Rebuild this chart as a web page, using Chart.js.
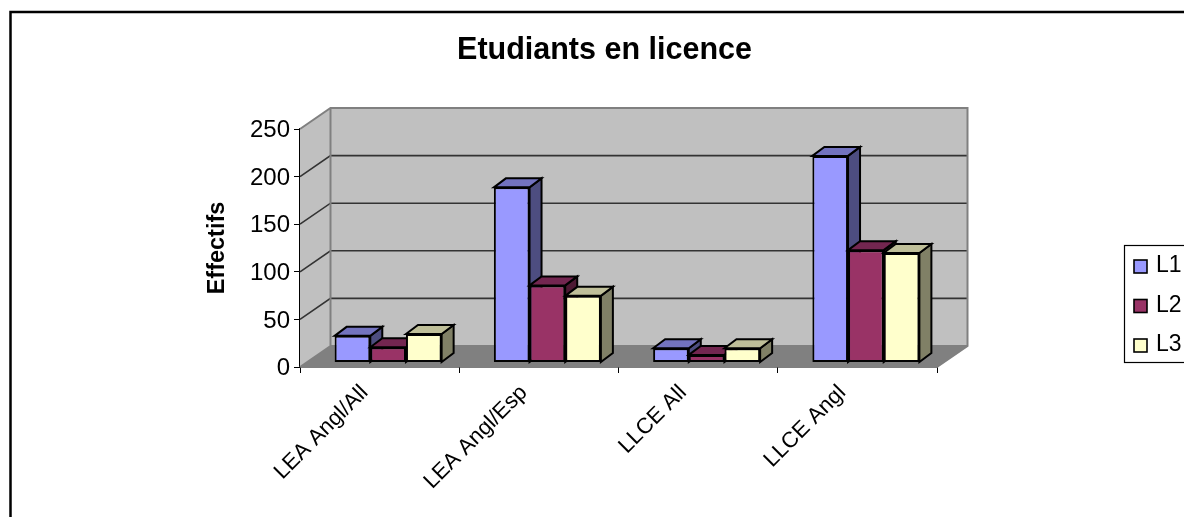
<!DOCTYPE html>
<html><head><meta charset="utf-8">
<style>html,body{margin:0;padding:0;background:#fff;overflow:hidden}canvas{display:block}</style>
<script src="https://cdn.jsdelivr.net/npm/chart.js@4"></script>
</head><body><canvas id="c" width="1184" height="517"></canvas>
<script>
const categories = ['LEA Angl/All','LEA Angl/Esp','LLCE All','LLCE Angl'];
const L1 = [28,184,15,217];
const L2 = [16,81,8,118];
const L3 = [30,70,15,115];
const yTicks = [0,50,100,150,200,250];
const seriesNames = ['L1','L2','L3'];
const fronts = ['#9999FF','#993366','#FFFFCC'];
const sides = ['#4D4D80','#4D1933','#808066'];
const tops = ['#7373BF','#732650','#BFBF99'];
const FONT = '"Liberation Sans", Arial, sans-serif';
const WALL = {dx:30.5, dy:-21};
const BAR = {dx:12, dy:-9, ox:8.5, oy:-4.5};

function poly(ctx, pts, fill, stroke, lw){
  ctx.beginPath();
  pts.forEach((p,i)=> i?ctx.lineTo(p[0],p[1]):ctx.moveTo(p[0],p[1]));
  ctx.closePath();
  if(fill){ctx.fillStyle=fill;ctx.fill();}
  if(stroke){ctx.strokeStyle=stroke;ctx.lineWidth=lw;ctx.lineJoin='miter';ctx.stroke();}
}
const scene = {
  id:'scene',
  afterLayout(chart){ if(chart.titleBlock){chart.titleBlock.left+=36;chart.titleBlock.right+=36;} },
  beforeDraw(chart){
    const ctx=chart.ctx;
    ctx.save();
    ctx.strokeStyle='#000';ctx.lineWidth=2.5;
    ctx.beginPath();ctx.moveTo(10.5,530);ctx.lineTo(10.5,12);ctx.lineTo(1200,12);ctx.stroke();
    ctx.restore();
  },
  beforeDatasetsDraw(chart){
    const ctx=chart.ctx,a=chart.chartArea,y=chart.scales.y,{dx,dy}=WALL;
    ctx.save();
    const l=a.left,r=a.right,t=a.top,b=a.bottom;
    poly(ctx,[[l+dx,t+dy],[r+dx,t+dy],[r+dx,b+dy],[l+dx,b+dy]],'#C0C0C0');
    poly(ctx,[[l,t],[l+dx,t+dy],[l+dx,b+dy],[l,b]],'#C0C0C0');
    poly(ctx,[[l,b],[r,b],[r+dx,b+dy],[l+dx,b+dy]],'#808080');
    yTicks.forEach(v=>{
      if(v===0||v===250)return;
      const p=y.getPixelForValue(v);
      ctx.strokeStyle='#333';ctx.lineWidth=1.6;
      ctx.beginPath();ctx.moveTo(l,p);ctx.lineTo(l+dx,p+dy);ctx.lineTo(r+dx,p+dy);ctx.stroke();
    });
    ctx.strokeStyle='#808080';ctx.lineWidth=2;ctx.lineJoin='miter';
    ctx.beginPath();ctx.moveTo(l,t);ctx.lineTo(l+dx,t+dy);ctx.lineTo(r+dx,t+dy);ctx.lineTo(r+dx,b+dy);ctx.lineTo(r,b);ctx.stroke();
    ctx.beginPath();ctx.moveTo(l+dx,t+dy);ctx.lineTo(l+dx,b+dy);ctx.lineTo(l,b);ctx.stroke();
    ctx.beginPath();ctx.moveTo(l+dx,b+dy);ctx.lineTo(r+dx,b+dy);ctx.stroke();
    ctx.restore();
  },
  beforeDatasetDraw(){ return false; },
  afterDatasetsDraw(chart){
    const ctx=chart.ctx,{dx,dy,ox,oy}=BAR;
    ctx.save();ctx.translate(ox,oy);
    categories.forEach((_,i)=>{
      seriesNames.forEach((_,d)=>{
        const el=chart.getDatasetMeta(d).data[i];
        const h=el.width/2,x0=el.x-h,x1=el.x+h,ty=el.y,by=el.base;
        poly(ctx,[[x1,ty],[x1+dx,ty+dy],[x1+dx,by+dy],[x1,by]],sides[d],'#000',2);
        poly(ctx,[[x0,ty],[x0+dx,ty+dy],[x1+dx,ty+dy],[x1,ty]],tops[d],'#000',2);
        el.draw(ctx);
      });
    });
    ctx.restore();
  },
  afterDraw(chart){
    const ctx=chart.ctx;
    ctx.save();
    ctx.strokeStyle='#000';ctx.lineWidth=1.2;
    ctx.strokeRect(1124.5,245.5,80,117);
    ctx.font='23px '+FONT;ctx.textBaseline='middle';ctx.textAlign='left';
    [260,299.5,339].forEach((yy,d)=>{
      ctx.fillStyle=fronts[d];ctx.strokeStyle='#000';ctx.lineWidth=1.6;
      ctx.fillRect(1134,yy,13,13);ctx.strokeRect(1134,yy,13,13);
      ctx.fillStyle='#000';ctx.fillText(chart.data.datasets[d].label,1156,yy+6);
    });
    ctx.restore();
  }
};
new Chart(document.getElementById('c'),{
  type:'bar',
  data:{labels:categories,datasets:[L1,L2,L3].map((v,d)=>({
    label:seriesNames[d],data:v,backgroundColor:fronts[d],borderColor:'#000',borderWidth:2,borderSkipped:false,
    categoryPercentage:0.672,barPercentage:1
  }))},
  plugins:[scene],
  options:{
    responsive:false,animation:false,
    layout:{padding:{left:200,right:247,top:0,bottom:0}},
    plugins:{
      legend:{display:false},tooltip:{enabled:false},
      title:{display:true,text:'Etudiants en licence',color:'#000',
        font:{family:FONT,size:30.5,weight:'bold',lineHeight:1.2},
        padding:{top:32.5,bottom:59.9}}
    },
    scales:{
      x:{
        afterFit(s){s.height=150;},
        grid:{offset:true,drawOnChartArea:false,drawTicks:true,tickLength:6,color:'#000',tickColor:'#000'},
        border:{color:'#000',width:1.5},
        ticks:{minRotation:45,maxRotation:45,color:'#000',font:{family:FONT,size:22},padding:7,labelOffset:-15,autoSkip:false}
      },
      y:{
        min:0,max:250,
        afterFit(s){s.width=100;},
        afterBuildTicks(s){s.ticks=yTicks.map(v=>({value:v}));},
        grid:{drawOnChartArea:false,tickLength:6,color:'#000',tickColor:'#000'},
        border:{color:'#000',width:1.5},
        ticks:{color:'#000',font:{family:FONT,size:24},padding:4,labelOffset:1.5},
        title:{display:true,text:'Effectifs',color:'#000',font:{family:FONT,size:23.5,weight:'bold',lineHeight:1.2},padding:{top:3,bottom:0}}
      }
    }
  }
});
</script></body></html>
